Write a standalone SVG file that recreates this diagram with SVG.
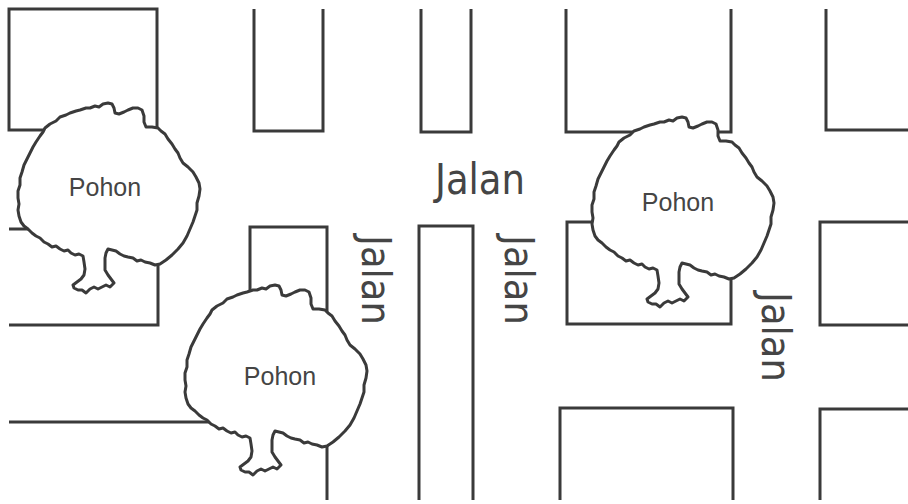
<svg xmlns="http://www.w3.org/2000/svg" xmlns:xlink="http://www.w3.org/1999/xlink" width="908" height="504" viewBox="0 0 908 504">
  <style>
    .blk { fill: none; stroke: #3a3a3a; stroke-width: 3; stroke-linejoin: miter; }
    .tree { fill: #ffffff; stroke: #3a3a3a; stroke-width: 3; stroke-linejoin: round; }
    .road { font-family: "DejaVu Sans Condensed", "DejaVu Sans", sans-serif; fill: #454545; }
    .lbl { font-family: "Liberation Sans", Arial, sans-serif; font-size: 25px; fill: #454545; text-anchor: middle; }
  </style>
  <defs>
    <!-- tree crown with trunk, drawn at the top-left tree position -->
    <path id="treeShape" class="tree" d="M45,128 L50,124 L56,121 L60,117 L66,115 L70,113 L76,111 L80,110 L86,108 L90,108 L95,106 L99,107 L103,104 L108,103 L112,104 L114,108 L115,113 L119,114 L124,112 L128,110 L133,108 L138,108 L142,110 L144,116 L144,122 L146,127 L152,127 L158,128 L161,131 L165,134 L168,139 L172,144 L175,149 L178,153 L180,158 L183,163 L188,167 L193,172 L196,177 L199,183 L200,189 L199,196 L197,203 L197,210 L195,216 L193,222 L190,229 L187,236 L183,243 L178,249 L172,255 L166,260 L160,264 L155,265 L150,263 L145,262 L141,260 L137,261 L133,258 L128,257 L124,256 L120,254 L116,251 L112,250 L108,249 L106,253 L105,258 L105,264 L105,270 L108,275 L111,279 L114,283 L110,287 L106,285 L102,287 L98,289 L94,287 L90,289 L86,293 L82,290 L78,290 L74,288 L73,285 L77,282 L81,279 L84,275 L85,269 L84,262 L83,256 L79,254 L75,255 L71,253 L68,250 L64,251 L60,249 L56,246 L52,247 L48,244 L44,242 L40,238 L36,236 L32,233 L28,229 L24,226 L21,222 L19,216 L18,210 L19,204 L18,198 L18,191 L20,185 L20,178 L22,172 L24,165 L27,159 L30,153 L33,147 L36,142 L40,136 L43,132 Z"/>
  </defs>

  <!-- building blocks -->
  <g id="blocks">
    <rect id="block-a" class="blk" x="9" y="9" width="148" height="121"/>
    <path id="block-b" class="blk" d="M254,9 V131 H323 V9"/>
    <path id="block-c" class="blk" d="M421,9 V132 H471 V9"/>
    <path id="block-d" class="blk" d="M566,9 V132 H731 V9"/>
    <path id="block-e" class="blk" d="M826,9 V130 H908"/>
    <path id="block-f" class="blk" d="M9,229 H158 V325 H9"/>
    <path id="block-g" class="blk" d="M250,330 V227 H327 V500"/>
    <path id="block-h" class="blk" d="M9,422 H327"/>
    <path id="block-i" class="blk" d="M419,500 V226 H473 V500"/>
    <rect id="block-j" class="blk" x="567" y="222" width="164" height="102"/>
    <path id="block-k" class="blk" d="M908,222 H820 V325 H908"/>
    <path id="block-l" class="blk" d="M560,500 V408 H733 V500"/>
    <path id="block-m" class="blk" d="M908,409 H820 V500"/>
  </g>

  <!-- street names -->
  <g id="streets" class="road">
    <text x="435" y="194" font-size="42" textLength="90" lengthAdjust="spacingAndGlyphs">Jalan</text>
    <text transform="translate(362,235) rotate(90)" font-size="40" textLength="90" lengthAdjust="spacingAndGlyphs">Jalan</text>
    <text transform="translate(505,235) rotate(90)" font-size="40" textLength="90" lengthAdjust="spacingAndGlyphs">Jalan</text>
    <text transform="translate(762,292) rotate(90)" font-size="40" textLength="90" lengthAdjust="spacingAndGlyphs">Jalan</text>
  </g>

  <!-- trees -->
  <g id="tree-1">
    <use xlink:href="#treeShape"/>
    <text class="lbl" x="105" y="196">Pohon</text>
  </g>
  <g id="tree-2">
    <use xlink:href="#treeShape" transform="translate(167,182)"/>
    <text class="lbl" x="280" y="385">Pohon</text>
  </g>
  <g id="tree-3">
    <use xlink:href="#treeShape" transform="translate(574,14)"/>
    <text class="lbl" x="678" y="211">Pohon</text>
  </g>
</svg>
